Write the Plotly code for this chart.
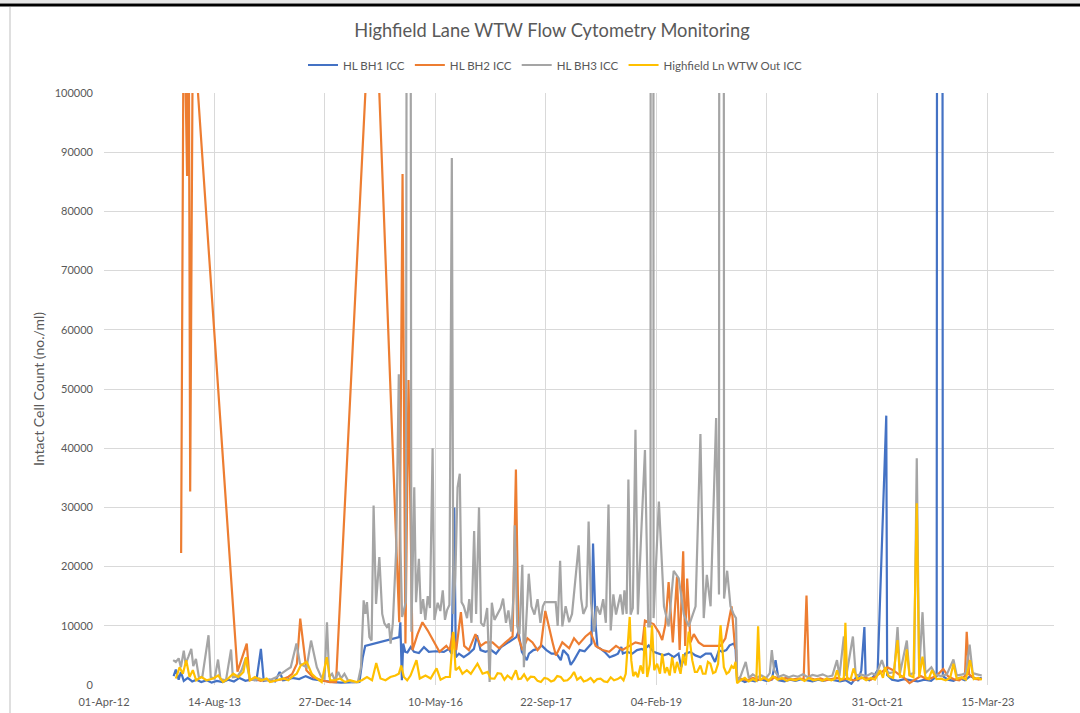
import plotly.graph_objects as go

# Intact cell count samples (cells/ml) per sampling point, as (date, value)
BH1 = [
    ("2013-02-10", 1500), ("2013-02-20", 2600), ("2013-03-05", 900), ("2013-03-15", 2200),
    ("2013-03-28", 700), ("2013-04-15", 1200), ("2013-05-05", 600), ("2013-05-25", 900),
    ("2013-06-15", 500), ("2013-07-10", 800), ("2013-08-01", 400), ("2013-08-25", 700),
    ("2013-09-20", 500), ("2013-10-15", 900), ("2013-11-10", 600), ("2013-12-05", 1200),
    ("2014-01-01", 700), ("2014-01-25", 900), ("2014-02-20", 800), ("2014-03-12", 6100),
    ("2014-03-25", 700), ("2014-04-20", 900), ("2014-05-15", 600), ("2014-06-05", 2200),
    ("2014-06-20", 800), ("2014-07-10", 900), ("2014-08-01", 1200), ("2014-09-01", 1000),
    ("2014-10-01", 1500), ("2014-11-01", 1000), ("2014-12-01", 800), ("2015-01-05", 600),
    ("2015-02-05", 500), ("2015-03-10", 400), ("2015-04-15", 400), ("2015-05-15", 500),
    ("2015-06-01", 500), ("2015-06-16", 4700), ("2015-06-27", 6600), ("2015-11-28", 8100),
    ("2015-12-03", 10600), ("2015-12-10", 800), ("2015-12-16", 7000), ("2015-12-25", 5600),
    ("2016-01-04", 5500), ("2016-01-19", 6400), ("2016-02-03", 5600), ("2016-02-25", 5400),
    ("2016-03-19", 6400), ("2016-04-10", 5600), ("2016-05-10", 5700), ("2016-06-17", 5600),
    ("2016-07-10", 6100), ("2016-07-22", 5300), ("2016-08-03", 30000), ("2016-08-10", 4700),
    ("2016-08-24", 5300), ("2016-09-15", 4700), ("2016-10-08", 5300), ("2016-10-31", 6100),
    ("2016-11-14", 8400), ("2016-11-30", 5900), ("2016-12-22", 5600), ("2017-01-17", 5900),
    ("2017-02-08", 5300), ("2017-03-03", 6400), ("2017-03-26", 7000), ("2017-04-18", 7500),
    ("2017-04-30", 7800), ("2017-05-11", 8100), ("2017-05-20", 9000), ("2017-06-05", 5600),
    ("2017-06-27", 4200), ("2017-07-07", 5300), ("2017-07-27", 5900), ("2017-08-17", 6100),
    ("2017-09-02", 6700), ("2017-09-24", 5900), ("2017-10-17", 5300), ("2017-11-09", 5300),
    ("2017-11-28", 4200), ("2017-12-09", 5900), ("2017-12-31", 5000), ("2018-01-12", 3400),
    ("2018-01-27", 4200), ("2018-02-07", 5000), ("2018-02-22", 5900), ("2018-03-16", 5700),
    ("2018-03-31", 6400), ("2018-04-16", 7000), ("2018-04-23", 23900), ("2018-05-05", 10000),
    ("2018-05-13", 6400), ("2018-05-28", 6100), ("2018-06-14", 5600), ("2018-07-07", 4700),
    ("2018-07-29", 5000), ("2018-08-14", 5300), ("2018-08-29", 6400), ("2018-09-05", 5300),
    ("2018-09-25", 5600), ("2018-10-18", 5300), ("2018-11-08", 5900), ("2018-11-30", 6100),
    ("2018-12-08", 5900), ("2018-12-31", 6700), ("2019-01-22", 5600), ("2019-02-14", 5300),
    ("2019-03-08", 5000), ("2019-03-31", 5300), ("2019-04-23", 4700), ("2019-05-15", 5300),
    ("2019-05-27", 3000), ("2019-06-14", 5300), ("2019-07-08", 5600), ("2019-07-30", 5000),
    ("2019-08-22", 4700), ("2019-09-15", 5300), ("2019-10-08", 5300), ("2019-10-27", 3900),
    ("2019-11-14", 5900), ("2019-11-28", 5600), ("2019-12-17", 5900), ("2020-01-01", 6700),
    ("2020-01-21", 7000), ("2020-01-28", 6100), ("2020-02-04", 600), ("2020-02-20", 900),
    ("2020-03-10", 500), ("2020-04-01", 800), ("2020-04-25", 600), ("2020-05-20", 1000),
    ("2020-06-15", 700), ("2020-07-10", 900), ("2020-07-27", 4200), ("2020-08-10", 800),
    ("2020-09-05", 600), ("2020-10-01", 900), ("2020-10-25", 700), ("2020-11-20", 1000),
    ("2020-12-15", 800), ("2021-01-10", 600), ("2021-02-05", 900), ("2021-03-01", 700),
    ("2021-03-25", 1000), ("2021-04-20", 800), ("2021-05-15", 600), ("2021-06-10", 800),
    ("2021-07-05", 200), ("2021-07-25", 1200), ("2021-08-05", 700), ("2021-08-19", 2500),
    ("2021-09-02", 9800), ("2021-09-08", 1000), ("2021-09-25", 800), ("2021-10-15", 1500),
    ("2021-11-01", 2500), ("2021-12-10", 45500), ("2021-12-14", 1700), ("2022-01-05", 900),
    ("2022-02-01", 700), ("2022-03-01", 1000), ("2022-04-01", 800), ("2022-05-01", 600),
    ("2022-06-01", 900), ("2022-07-01", 700), ("2022-07-26", 1500), ("2022-08-09", 1000000),
    ("2022-08-23", 1500), ("2022-09-15", 900), ("2022-10-10", 700), ("2022-11-05", 1200),
    ("2022-12-01", 800), ("2022-12-25", 1500), ("2023-01-20", 1000), ("2023-02-15", 1200),
]

BH2 = [
    ("2013-03-16", 22300), ("2013-03-28", 120000), ("2013-04-12", 86000), ("2013-04-19", 120000),
    ("2013-04-26", 32700), ("2013-05-10", 125000), ("2013-05-24", 104000), ("2013-11-26", 2250),
    ("2014-01-07", 7000), ("2014-01-20", 800), ("2014-02-15", 1000), ("2014-03-10", 700),
    ("2014-04-05", 900), ("2014-05-01", 600), ("2014-05-25", 800), ("2014-06-20", 1000),
    ("2014-07-15", 1400), ("2014-08-01", 1900), ("2014-08-22", 3600), ("2014-09-06", 11200),
    ("2014-10-04", 2500), ("2014-11-02", 1350), ("2014-12-12", 800), ("2015-01-18", 500),
    ("2015-02-15", 500), ("2015-07-16", 113700), ("2015-08-17", 112800), ("2015-11-28", 10600),
    ("2015-12-13", 86300), ("2015-12-26", 7000), ("2016-01-09", 51500), ("2016-01-27", 5900),
    ("2016-02-19", 8600), ("2016-03-12", 10600), ("2016-04-05", 9200), ("2016-05-05", 7200),
    ("2016-05-28", 5600), ("2016-06-28", 6600), ("2016-07-13", 5900), ("2016-07-28", 8900),
    ("2016-08-12", 5900), ("2016-09-02", 12300), ("2016-09-17", 6600), ("2016-10-08", 5900),
    ("2016-11-07", 8600), ("2016-12-01", 6600), ("2016-12-23", 7200), ("2017-01-23", 7200),
    ("2017-02-22", 6200), ("2017-03-23", 7200), ("2017-04-24", 8200), ("2017-05-09", 36400),
    ("2017-05-21", 7900), ("2017-06-08", 5900), ("2017-06-30", 7900), ("2017-07-23", 7200),
    ("2017-08-15", 5900), ("2017-08-30", 6600), ("2017-09-19", 12500), ("2017-10-22", 7200),
    ("2017-11-06", 5000), ("2017-12-05", 7200), ("2018-01-05", 6200), ("2018-01-27", 7900),
    ("2018-02-18", 6900), ("2018-03-20", 8200), ("2018-04-12", 8900), ("2018-05-05", 6600),
    ("2018-06-05", 5900), ("2018-07-05", 5600), ("2018-08-05", 6600), ("2018-09-03", 5900),
    ("2018-10-02", 6600), ("2018-11-01", 7200), ("2018-12-02", 6900), ("2018-12-14", 10900),
    ("2019-01-22", 10300), ("2019-02-15", 8900), ("2019-03-02", 7600), ("2019-03-17", 10300),
    ("2019-03-31", 17400), ("2019-04-19", 7200), ("2019-05-08", 18300), ("2019-05-20", 5900),
    ("2019-06-05", 22600), ("2019-06-14", 6600), ("2019-06-23", 18000), ("2019-07-08", 7200),
    ("2019-07-23", 8600), ("2019-08-14", 7200), ("2019-09-06", 6600), ("2019-09-28", 6600),
    ("2019-10-29", 6600), ("2019-11-21", 6600), ("2019-12-13", 7900), ("2020-01-10", 13300),
    ("2020-01-25", 6600), ("2020-01-31", 5900), ("2020-02-04", 1200), ("2020-02-25", 1000),
    ("2020-03-20", 800), ("2020-04-15", 1200), ("2020-05-10", 900), ("2020-06-05", 1100),
    ("2020-07-01", 800), ("2020-07-25", 1300), ("2020-08-20", 1000), ("2020-09-15", 1200),
    ("2020-10-10", 900), ("2020-11-05", 1100), ("2020-12-01", 1000), ("2020-12-14", 15100),
    ("2020-12-25", 1200), ("2021-01-20", 900), ("2021-02-15", 1100), ("2021-03-10", 800),
    ("2021-04-05", 1000), ("2021-05-01", 1200), ("2021-05-25", 900), ("2021-06-20", 1100),
    ("2021-07-15", 800), ("2021-08-10", 1000), ("2021-09-05", 1300), ("2021-10-01", 900),
    ("2021-10-25", 1500), ("2021-11-20", 2200), ("2021-12-15", 3000), ("2022-01-10", 2500),
    ("2022-02-05", 1800), ("2022-03-01", 1200), ("2022-03-25", 300), ("2022-04-20", 900),
    ("2022-05-15", 1500), ("2022-06-10", 1000), ("2022-07-05", 1200), ("2022-08-01", 1800),
    ("2022-08-25", 2700), ("2022-09-15", 1500), ("2022-10-10", 1000), ("2022-11-05", 800),
    ("2022-12-01", 1500), ("2022-12-09", 9000), ("2022-12-20", 1800), ("2023-01-10", 1200),
    ("2023-02-01", 900), ("2023-02-15", 1100),
]

BH3 = [
    ("2013-02-08", 4200), ("2013-02-20", 3900), ("2013-03-05", 4500), ("2013-03-15", 3000),
    ("2013-03-28", 5800), ("2013-04-05", 3600), ("2013-04-18", 4800), ("2013-05-01", 6100),
    ("2013-05-10", 3200), ("2013-05-22", 4400), ("2013-06-05", 1200), ("2013-06-20", 1400),
    ("2013-07-18", 8400), ("2013-07-28", 1300), ("2013-08-15", 1100), ("2013-08-30", 4300),
    ("2013-09-10", 1000), ("2013-10-05", 800), ("2013-10-28", 6000), ("2013-11-05", 1300),
    ("2013-11-25", 1400), ("2013-12-15", 2500), ("2014-01-02", 4500), ("2014-01-20", 1100),
    ("2014-02-10", 800), ("2014-03-05", 1100), ("2014-03-30", 800), ("2014-04-25", 900),
    ("2014-05-20", 1300), ("2014-06-10", 1900), ("2014-07-05", 2500), ("2014-07-25", 3000),
    ("2014-08-20", 7000), ("2014-09-05", 3600), ("2014-09-20", 3300), ("2014-10-05", 3000),
    ("2014-10-25", 7500), ("2014-11-20", 3000), ("2014-12-10", 1350), ("2014-12-25", 1100),
    ("2015-01-05", 10600), ("2015-01-15", 1350), ("2015-01-28", 1900), ("2015-02-10", 800),
    ("2015-02-25", 2200), ("2015-03-10", 1100), ("2015-03-25", 1900), ("2015-04-10", 800),
    ("2015-05-01", 500), ("2015-05-25", 500), ("2015-06-08", 3000), ("2015-06-20", 14300),
    ("2015-06-28", 12000), ("2015-07-05", 14000), ("2015-07-16", 8100), ("2015-07-26", 7500),
    ("2015-08-04", 30300), ("2015-08-15", 13700), ("2015-08-30", 21600), ("2015-09-12", 12000),
    ("2015-09-22", 10400), ("2015-10-03", 9800), ("2015-10-12", 10400), ("2015-10-20", 7000),
    ("2015-10-30", 10400), ("2015-11-14", 22700), ("2015-11-26", 52500), ("2015-12-04", 22700),
    ("2015-12-11", 11500), ("2015-12-28", 14000), ("2016-01-10", 400000), ("2016-01-22", 9000),
    ("2016-02-04", 33400), ("2016-02-12", 14000), ("2016-02-25", 21300), ("2016-03-05", 12000),
    ("2016-03-15", 14500), ("2016-03-25", 11000), ("2016-04-05", 15000), ("2016-04-15", 13000),
    ("2016-04-27", 40000), ("2016-05-05", 11000), ("2016-05-20", 13900), ("2016-06-01", 12500),
    ("2016-06-12", 16000), ("2016-06-22", 11000), ("2016-07-01", 12600), ("2016-07-12", 13500),
    ("2016-07-23", 89000), ("2016-07-30", 12000), ("2016-08-08", 18600), ("2016-08-18", 33400),
    ("2016-08-28", 35700), ("2016-09-05", 14000), ("2016-09-15", 13300), ("2016-09-30", 11300),
    ("2016-10-10", 14500), ("2016-10-20", 10500), ("2016-11-01", 26000), ("2016-11-10", 12000),
    ("2016-11-23", 30000), ("2016-12-02", 10500), ("2016-12-15", 9900), ("2016-12-30", 13000),
    ("2017-01-10", 500), ("2017-01-20", 13900), ("2017-02-01", 11000), ("2017-02-15", 11900),
    ("2017-03-01", 13000), ("2017-03-12", 14600), ("2017-03-25", 10500), ("2017-04-05", 12600),
    ("2017-04-18", 9000), ("2017-04-28", 15000), ("2017-05-04", 27000), ("2017-05-15", 9900),
    ("2017-05-25", 8600), ("2017-06-07", 20300), ("2017-06-14", 3000), ("2017-07-06", 18800),
    ("2017-07-18", 13300), ("2017-08-01", 11900), ("2017-08-15", 14500), ("2017-08-28", 10500),
    ("2017-09-08", 13300), ("2017-09-17", 14000), ("2017-11-05", 14000), ("2017-11-14", 10000),
    ("2017-11-25", 21000), ("2017-12-05", 9900), ("2017-12-20", 13300), ("2018-01-05", 10600),
    ("2018-01-18", 12000), ("2018-02-17", 23600), ("2018-02-28", 14600), ("2018-03-10", 12000),
    ("2018-03-25", 13300), ("2018-04-03", 27600), ("2018-04-14", 13900), ("2018-04-28", 9000),
    ("2018-05-10", 13300), ("2018-05-25", 11900), ("2018-06-08", 14500), ("2018-06-20", 10500),
    ("2018-07-02", 30500), ("2018-07-12", 9200), ("2018-07-24", 15300), ("2018-08-05", 11900),
    ("2018-08-25", 15300), ("2018-09-05", 11900), ("2018-09-12", 16000), ("2018-09-22", 12000),
    ("2018-09-30", 34700), ("2018-10-10", 11900), ("2018-10-20", 13000), ("2018-11-01", 43100),
    ("2018-11-12", 11900), ("2018-11-26", 24700), ("2018-12-14", 39700), ("2018-12-29", 9900),
    ("2019-01-08", 9900), ("2019-01-15", 1000000), ("2019-01-22", 11300), ("2019-02-15", 31000),
    ("2019-03-10", 13300), ("2019-03-31", 9900), ("2019-04-23", 19300), ("2019-05-16", 18000),
    ("2019-06-08", 11900), ("2019-06-30", 9900), ("2019-07-31", 13300), ("2019-08-22", 42400),
    ("2019-09-06", 11300), ("2019-09-20", 18600), ("2019-10-07", 13300), ("2019-11-01", 45100),
    ("2019-11-14", 15300), ("2019-11-25", 1000000), ("2019-12-07", 14600), ("2019-12-21", 19300),
    ("2020-01-05", 13300), ("2020-01-20", 11900), ("2020-01-30", 11300), ("2020-02-04", 500),
    ("2020-02-20", 1500), ("2020-03-14", 3900), ("2020-03-28", 1200), ("2020-04-15", 1800),
    ("2020-05-05", 1300), ("2020-05-25", 1600), ("2020-06-15", 1200), ("2020-07-01", 2000),
    ("2020-07-10", 5900), ("2020-07-20", 2500), ("2020-08-10", 1400), ("2020-09-01", 1700),
    ("2020-09-25", 1300), ("2020-10-15", 1600), ("2020-11-05", 1400), ("2020-11-28", 1800),
    ("2020-12-20", 1300), ("2021-01-10", 1700), ("2021-02-01", 1500), ("2021-02-25", 1800),
    ("2021-03-20", 1400), ("2021-04-10", 1600), ("2021-05-01", 4200), ("2021-05-12", 1500),
    ("2021-06-01", 8200), ("2021-06-12", 1500), ("2021-07-12", 8200), ("2021-07-25", 1600),
    ("2021-08-15", 1800), ("2021-09-10", 1500), ("2021-10-05", 2000), ("2021-10-25", 1700),
    ("2021-11-20", 4200), ("2021-12-05", 2500), ("2021-12-25", 2000), ("2022-01-15", 2200),
    ("2022-01-30", 9800), ("2022-02-10", 2000), ("2022-03-13", 7500), ("2022-03-25", 1800),
    ("2022-04-15", 2000), ("2022-04-27", 38300), ("2022-05-08", 2500), ("2022-05-23", 12300),
    ("2022-06-05", 2000), ("2022-07-02", 3000), ("2022-07-20", 1800), ("2022-08-15", 1500),
    ("2022-09-10", 1800), ("2022-10-10", 4300), ("2022-10-25", 1600), ("2022-11-20", 1800),
    ("2022-12-05", 2000), ("2022-12-22", 6800), ("2023-01-05", 2000), ("2023-01-25", 1800),
    ("2023-02-15", 1600),
]

OUT = [
    ("2013-02-20", 1100), ("2013-03-09", 3000), ("2013-03-24", 1900), ("2013-04-08", 4200),
    ("2013-04-23", 1350), ("2013-05-08", 2500), ("2013-05-23", 800), ("2013-06-16", 1350),
    ("2013-07-09", 800), ("2013-08-08", 1100), ("2013-08-31", 1600), ("2013-09-22", 500),
    ("2013-10-15", 1100), ("2013-11-07", 1900), ("2013-11-30", 1350), ("2013-12-23", 2200),
    ("2014-01-04", 4700), ("2014-01-22", 800), ("2014-02-13", 1350), ("2014-03-15", 800),
    ("2014-04-07", 1100), ("2014-04-22", 500), ("2014-05-22", 800), ("2014-06-21", 1100),
    ("2014-07-14", 800), ("2014-07-30", 1350), ("2014-08-21", 1900), ("2014-09-08", 3300),
    ("2014-10-05", 3900), ("2014-10-28", 1900), ("2014-11-20", 1100), ("2014-12-12", 500),
    ("2015-01-04", 4700), ("2015-01-19", 800), ("2015-02-11", 800), ("2015-03-05", 1100),
    ("2015-03-28", 500), ("2015-04-19", 800), ("2015-05-20", 500), ("2015-06-12", 800),
    ("2015-07-05", 1350), ("2015-07-28", 800), ("2015-08-16", 3700), ("2015-09-04", 1100),
    ("2015-09-27", 800), ("2015-10-19", 1350), ("2015-11-11", 1600), ("2015-11-26", 1900),
    ("2015-12-07", 3300), ("2015-12-19", 1350), ("2016-01-03", 800), ("2016-01-18", 1600),
    ("2016-02-14", 4200), ("2016-02-29", 1100), ("2016-03-26", 1600), ("2016-04-18", 1100),
    ("2016-05-15", 2800), ("2016-06-02", 900), ("2016-06-25", 1350), ("2016-07-14", 1350),
    ("2016-07-30", 9000), ("2016-08-09", 2500), ("2016-08-25", 3000), ("2016-09-09", 1900),
    ("2016-09-29", 2500), ("2016-10-17", 1900), ("2016-11-16", 3600), ("2016-12-09", 1900),
    ("2017-01-01", 2200), ("2017-01-15", 1100), ("2017-02-01", 1070), ("2017-02-15", 2000),
    ("2017-03-03", 1900), ("2017-03-18", 900), ("2017-04-01", 1600), ("2017-04-20", 1000),
    ("2017-05-09", 2500), ("2017-05-20", 1000), ("2017-06-01", 1070), ("2017-06-15", 1800),
    ("2017-06-30", 800), ("2017-07-15", 1400), ("2017-07-31", 1350), ("2017-08-15", 700),
    ("2017-08-30", 500), ("2017-09-15", 1200), ("2017-09-29", 1070), ("2017-10-15", 600),
    ("2017-10-29", 800), ("2017-11-12", 1500), ("2017-11-28", 1350), ("2017-12-12", 700),
    ("2017-12-28", 800), ("2018-01-12", 1300), ("2018-01-27", 2200), ("2018-02-10", 900),
    ("2018-02-26", 1350), ("2018-03-12", 600), ("2018-03-28", 800), ("2018-04-12", 1200),
    ("2018-04-27", 500), ("2018-05-12", 1000), ("2018-05-27", 1070), ("2018-06-12", 600),
    ("2018-06-27", 500), ("2018-07-12", 1300), ("2018-07-27", 800), ("2018-08-12", 1000),
    ("2018-08-26", 1350), ("2018-09-08", 800), ("2018-09-18", 1900), ("2018-10-06", 11500),
    ("2018-10-13", 4200), ("2018-10-22", 1500), ("2018-11-01", 2200), ("2018-11-12", 1300),
    ("2018-11-24", 3300), ("2018-12-06", 1900), ("2018-12-14", 9800), ("2018-12-24", 1350),
    ("2019-01-05", 3500), ("2019-01-15", 10100), ("2019-01-25", 2500), ("2019-02-07", 3600),
    ("2019-02-20", 1900), ("2019-03-02", 5300), ("2019-03-14", 2000), ("2019-03-24", 3000),
    ("2019-04-05", 1600), ("2019-04-16", 4700), ("2019-04-28", 2000), ("2019-05-08", 3900),
    ("2019-05-24", 1900), ("2019-06-05", 5200), ("2019-06-16", 3300), ("2019-06-30", 9000),
    ("2019-07-16", 4200), ("2019-07-28", 2200), ("2019-08-07", 2200), ("2019-08-22", 3300),
    ("2019-09-02", 1900), ("2019-09-14", 1900), ("2019-09-25", 3900), ("2019-10-06", 3600),
    ("2019-10-18", 2000), ("2019-10-29", 2200), ("2019-11-10", 3600), ("2019-11-21", 10100),
    ("2019-12-06", 3000), ("2019-12-18", 1900), ("2019-12-29", 2200), ("2020-01-10", 3200),
    ("2020-01-20", 2800), ("2020-01-28", 3900), ("2020-02-04", 300), ("2020-02-20", 800),
    ("2020-03-10", 1200), ("2020-03-28", 600), ("2020-04-15", 1000), ("2020-05-01", 700),
    ("2020-05-09", 9900), ("2020-05-18", 800), ("2020-06-05", 1300), ("2020-06-25", 700),
    ("2020-07-15", 1500), ("2020-08-05", 900), ("2020-08-25", 1200), ("2020-09-15", 700),
    ("2020-10-05", 1000), ("2020-10-25", 800), ("2020-11-15", 1100), ("2020-12-05", 700),
    ("2020-12-25", 1200), ("2021-01-15", 800), ("2021-02-05", 1000), ("2021-02-25", 700),
    ("2021-03-15", 1100), ("2021-04-05", 800), ("2021-04-20", 1000), ("2021-05-01", 2500),
    ("2021-05-15", 800), ("2021-06-01", 1200), ("2021-06-08", 10500), ("2021-06-16", 1000),
    ("2021-07-01", 900), ("2021-07-15", 2800), ("2021-08-01", 1000), ("2021-08-20", 1300),
    ("2021-09-10", 800), ("2021-10-01", 1200), ("2021-10-20", 900), ("2021-11-12", 2500),
    ("2021-11-25", 1200), ("2021-12-05", 3000), ("2021-12-20", 1500), ("2022-01-10", 1200),
    ("2022-01-30", 7600), ("2022-02-10", 1350), ("2022-02-28", 1500), ("2022-03-13", 6000),
    ("2022-03-25", 1600), ("2022-04-12", 1300), ("2022-04-27", 30700), ("2022-05-08", 1350),
    ("2022-05-23", 4800), ("2022-06-05", 1350), ("2022-06-20", 1000), ("2022-07-05", 2500),
    ("2022-07-25", 1000), ("2022-08-15", 1070), ("2022-09-05", 800), ("2022-09-25", 1200),
    ("2022-10-10", 3600), ("2022-10-25", 1000), ("2022-11-15", 1300), ("2022-12-05", 900),
    ("2022-12-24", 4200), ("2023-01-10", 1000), ("2023-01-30", 1200), ("2023-02-15", 900),
]

SERIES_NAMES = ["HL BH1 ICC", "HL BH2 ICC", "HL BH3 ICC", "Highfield Ln WTW Out ICC"]
SERIES_COLORS = ["#4472C4", "#ED7D31", "#A5A5A5", "#FFC000"]

X_TICK_DATES = ["2012-04-01", "2013-08-14", "2014-12-27", "2016-05-10", "2017-09-22",
                "2019-02-04", "2020-06-18", "2021-10-31", "2023-03-15"]
X_TICK_LABELS = ["01-Apr-12", "14-Aug-13", "27-Dec-14", "10-May-16", "22-Sep-17",
                 "04-Feb-19", "18-Jun-20", "31-Oct-21", "15-Mar-23"]
X_RANGE = ["2012-04-01", "2024-01-08"]
Y_TICKS = [0, 10000, 20000, 30000, 40000, 50000, 60000, 70000, 80000, 90000, 100000]

FONT = "Lato, 'Open Sans', sans-serif"
TEXT_GREY = "#595959"
GRID = "#D9D9D9"

W, H = 1080, 713
ML, MR, MT, MB = 104, 26, 93, 28
PW, PH = W - ML - MR, H - MT - MB


def px_to_paper_x(px):
    return (px - ML) / PW


def py_to_paper_y(py):
    return (H - MB - py) / PH


fig = go.Figure()
for name, pts, color in zip(SERIES_NAMES, [BH1, BH2, BH3, OUT], SERIES_COLORS):
    fig.add_trace(go.Scatter(
        x=[d for d, _ in pts],
        y=[v for _, v in pts],
        mode="lines",
        name=name,
        line=dict(color=color, width=2.2),
        connectgaps=True,
    ))

# window frame around the chart object
frame = [
    dict(type="rect", x0=px_to_paper_x(0), x1=px_to_paper_x(W), y0=py_to_paper_y(0), y1=py_to_paper_y(3),
         fillcolor="#E6E6E6", line=dict(width=0)),
    dict(type="line", x0=px_to_paper_x(0), x1=px_to_paper_x(W), y0=py_to_paper_y(5), y1=py_to_paper_y(5),
         line=dict(color="#000000", width=3)),
    dict(type="line", x0=px_to_paper_x(10), x1=px_to_paper_x(10), y0=py_to_paper_y(7), y1=py_to_paper_y(H),
         line=dict(color="#BFBFBF", width=1)),
]
for s in frame:
    s.update(xref="paper", yref="paper", layer="above")

fig.update_layout(
    width=W, height=H, autosize=False,
    margin=dict(l=ML, r=MR, t=MT, b=MB),
    paper_bgcolor="white", plot_bgcolor="white",
    font=dict(family=FONT, color=TEXT_GREY),
    title=dict(
        text="Highfield Lane WTW Flow Cytometry Monitoring",
        font=dict(family=FONT, size=18.3, color=TEXT_GREY),
        xref="paper", x=px_to_paper_x(552), xanchor="center",
        yref="container", y=1 - 31 / H, yanchor="middle",
    ),
    legend=dict(
        orientation="h",
        xref="paper", x=px_to_paper_x(555), xanchor="center",
        yref="paper", y=py_to_paper_y(65), yanchor="middle",
        font=dict(family=FONT, size=11.5, color=TEXT_GREY),
        bgcolor="rgba(0,0,0,0)",
        itemwidth=30,
        tracegroupgap=0,
    ),
    xaxis=dict(
        type="date", range=X_RANGE, automargin=False,
        tickmode="array", tickvals=X_TICK_DATES, ticktext=X_TICK_LABELS,
        showgrid=True, gridcolor=GRID, gridwidth=1,
        zeroline=False, showline=False, ticks="",
        tickfont=dict(family=FONT, size=11, color=TEXT_GREY),
        ticklabelstandoff=9,
    ),
    yaxis=dict(
        range=[0, 100000], automargin=False,
        tickmode="array", tickvals=Y_TICKS, tickformat="d",
        showgrid=True, gridcolor=GRID, gridwidth=1,
        zeroline=False, showline=False, ticks="",
        tickfont=dict(family=FONT, size=11, color=TEXT_GREY),
        ticklabelstandoff=10,
        title=dict(text="Intact Cell Count (no./ml)", standoff=6,
                   font=dict(family=FONT, size=14, color=TEXT_GREY)),
    ),
    shapes=frame,
    showlegend=True,
)

fig.write_html("out.html")
